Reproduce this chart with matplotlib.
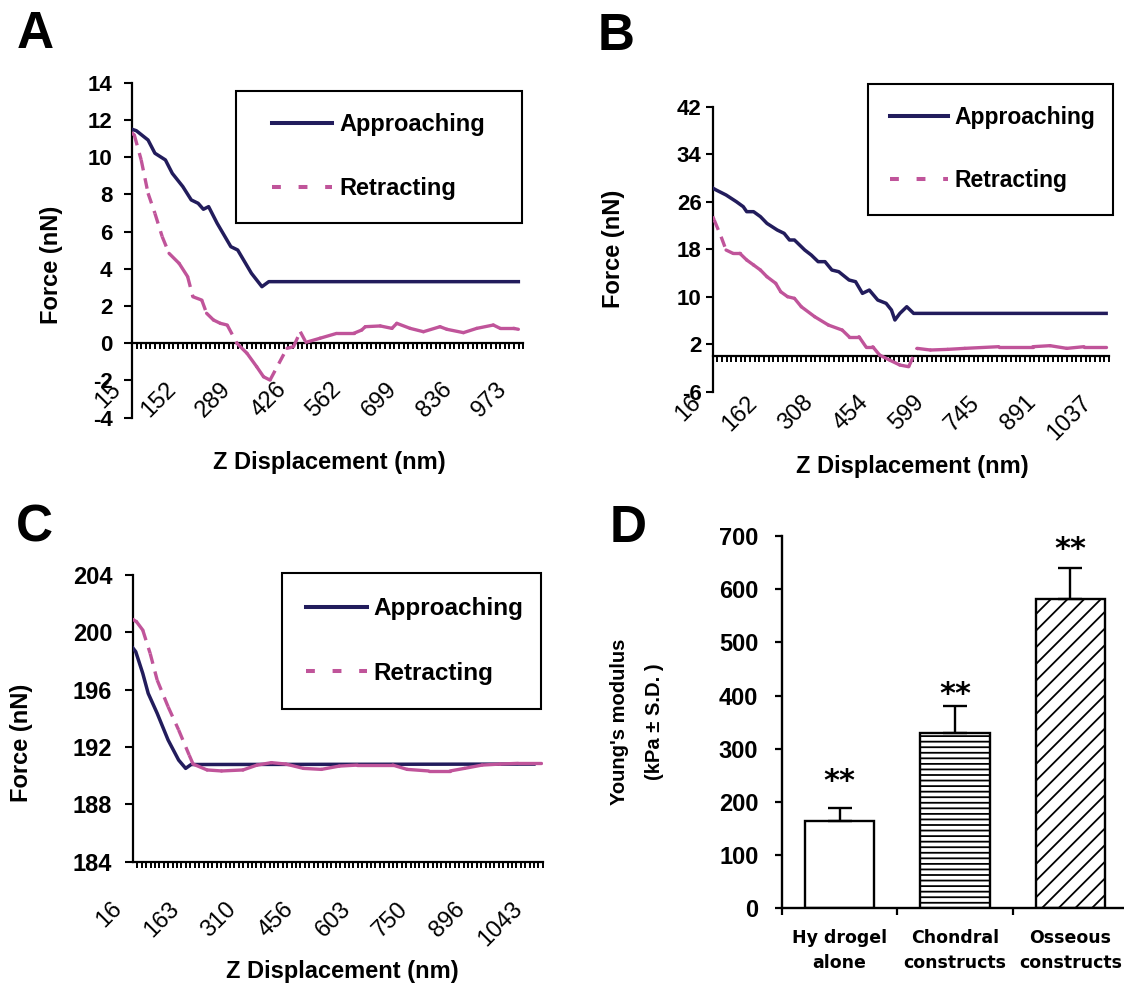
import numpy as np
import matplotlib
matplotlib.use("Agg")
import matplotlib.pyplot as plt
import matplotlib.transforms as mtransforms
from matplotlib.collections import LineCollection
from matplotlib.lines import Line2D
from matplotlib.legend_handler import HandlerLine2D
from matplotlib.ticker import FixedLocator

plt.rcParams['font.family'] = ['Liberation Sans', 'DejaVu Sans']
plt.rcParams['hatch.linewidth'] = 1.3

# ------------------------------------------------------------------ data
series_labels = ['Approaching', 'Retracting']

# Panel A
a_app_x = [15, 26, 55, 72, 98, 115, 141, 162, 179, 192, 205, 226, 260, 277, 311, 337, 354, 972]
a_app_y = [11.5, 11.42, 10.92, 10.21, 9.85, 9.13, 8.42, 7.70, 7.52, 7.20, 7.34, 6.45, 5.19, 5.01,
           3.76, 3.04, 3.31, 3.31]
a_ret_x = [15, 21, 38, 55, 72, 90, 107, 132, 153, 166, 188, 200, 217, 234, 251, 275, 300, 324, 341,
           357, 399, 415, 432, 446, 481, 522, 564, 584, 593, 630, 659, 671, 704, 737, 778, 795, 836,
           869, 910, 927, 960, 972]
a_ret_y = [11.3, 11.19, 9.85, 8.06, 6.98, 5.73, 4.83, 4.29, 3.58, 2.50, 2.32, 1.61, 1.25, 1.07, 0.98,
           0.0, -0.54, -1.26, -1.80, -1.98, -0.27, -0.19, 0.62, 0.05, 0.27, 0.53, 0.53, 0.71, 0.89,
           0.93, 0.80, 1.07, 0.80, 0.62, 0.89, 0.75, 0.57, 0.80, 0.98, 0.80, 0.80, 0.75]
a_yticks = [-4, -2, 0, 2, 4, 6, 8, 10, 12, 14]
a_xticks = [15, 152, 289, 426, 562, 699, 836, 973]

# Panel B
b_app_x = [16, 25, 51, 78, 96, 105, 123, 141, 158, 185, 203, 217, 230, 257, 274, 292, 310, 328, 346,
           373, 390, 408, 426, 448, 470, 484, 493, 506, 524, 542, 1046]
b_app_y = [28.3, 27.97, 27.13, 26.0, 25.16, 24.32, 24.32, 23.48, 22.35, 21.23, 20.67, 19.55, 19.55,
           17.86, 17.02, 15.90, 15.90, 14.49, 14.21, 12.81, 12.53, 10.56, 11.12, 9.44, 8.88, 7.75,
           6.07, 7.19, 8.31, 7.19, 7.19]
b_ret_x = [16, 20, 38, 51, 69, 87, 105, 123, 141, 158, 181, 194, 212, 230, 248, 283, 319, 355, 373,
           399, 417, 435, 453, 479, 506, 529, 551, 586, 631, 676, 765, 854, 899, 943, 988, 1046]
b_ret_y = [23.5, 22.91, 20.10, 17.86, 17.30, 17.30, 16.18, 15.34, 14.49, 13.37, 12.25, 10.84, 10.0,
           9.72, 8.31, 6.63, 5.22, 4.38, 3.26, 3.26, 1.57, 1.57, 0.17, -0.67, -1.51, -1.79, 1.30,
           1.02, 1.13, 1.30, 1.58, 1.58, 1.75, 1.30, 1.58, 1.58]
b_yticks = [-6, 2, 10, 18, 26, 34, 42]
b_xticks = [16, 162, 308, 454, 599, 745, 891, 1037]

# Panel C
c_app_x = [16, 23, 41, 55, 78, 106, 133, 151, 165, 1044]
c_app_y = [198.9, 198.65, 197.14, 195.74, 194.35, 192.49, 191.09, 190.51, 190.78, 190.81]
c_ret_x = [16, 25, 41, 60, 78, 106, 133, 160, 170, 206, 243, 298, 334, 371, 408, 453, 499, 545, 591,
           682, 719, 774, 829, 866, 911, 957, 1003, 1062]
c_ret_y = [200.9, 200.74, 200.16, 198.53, 196.67, 194.81, 193.19, 191.44, 190.81, 190.40, 190.33,
           190.40, 190.74, 190.91, 190.81, 190.51, 190.44, 190.67, 190.74, 190.74, 190.44, 190.33,
           190.33, 190.51, 190.74, 190.81, 190.86, 190.86]
c_yticks = [184, 188, 192, 196, 200, 204]
c_xticks = [16, 163, 310, 456, 603, 750, 896, 1043]

# Panel D
d_groups = ['Hy drogel\nalone', 'Chondral\nconstructs', 'Osseous\nconstructs']
d_modulus = [165, 330, 582]
d_sd = [23, 50, 58]
d_sig = ['**', '**', '**']
d_sig_y = [257, 420, 692]
d_yticks = [0, 100, 200, 300, 400, 500, 600, 700]

# ------------------------------------------------------------------ style
APP_C = '#221C5C'
RET_C = '#C0549A'
W, H = 1124, 984

fig = plt.figure(figsize=(W / 100, H / 100), dpi=100)


def px_rect(x0, y0, x1, y1):
    """axes rect from pixel box (top-left origin)."""
    return [x0 / W, 1 - y1 / H, (x1 - x0) / W, (y1 - y0) / H]


def draw_retract(ax, x, y):
    # Excel-style dashed series: the dash restarts on every segment, so only
    # the steep segments show visible gaps.
    pts = np.column_stack([x, y])
    segs = np.stack([pts[:-1], pts[1:]], axis=1)
    d = np.diff(ax.transData.transform(pts), axis=0)
    steep = np.abs(d[:, 1]) > 1.7 * np.abs(d[:, 0])
    ax.add_collection(LineCollection(segs[~steep], colors=RET_C, linewidths=2.4,
                                     capstyle='round', joinstyle='round', zorder=4))
    ax.add_collection(LineCollection(segs[steep], colors=RET_C, linewidths=2.4,
                                     linestyles=[(0, (3.2, 2.4))], capstyle='butt', zorder=4))


def force_panel(rect, app_x, app_y, ret_x, ret_y, xlim, ylim, yticks, xticks, minor_step,
                cross_zero, ytick_size, ypad, ytick_len, xlab_pad, ylabel_xy, xlabel_xy, leg):
    ax = fig.add_axes(rect)
    ax.set_xlim(xlim)
    ax.set_ylim(ylim)
    ax.plot(app_x, app_y, color=APP_C, lw=2.5, zorder=3)
    draw_retract(ax, ret_x, ret_y)
    for s in ('top', 'right'):
        ax.spines[s].set_visible(False)
    for s in ('left', 'bottom'):
        ax.spines[s].set_linewidth(1.6)
    if cross_zero:
        ax.spines['bottom'].set_position(('data', 0))
    ax.set_yticks(yticks, labels=[str(t) for t in yticks], fontsize=ytick_size,
                  fontweight='bold')
    ax.set_xticks(xticks, labels=[str(t) for t in xticks], fontsize=17, rotation=45,
                  ha='right', va='top')
    ax.xaxis.set_minor_locator(FixedLocator(np.arange(xlim[0] + minor_step, xlim[1], minor_step)))
    ax.xaxis.remove_overlapping_locs = False
    ax.tick_params(axis='y', which='major', direction='out', length=ytick_len, width=1.5, pad=ypad)
    ax.tick_params(axis='x', which='major', length=0, pad=xlab_pad)
    ax.tick_params(axis='x', which='minor', direction='out', length=4, width=1.4)
    off = mtransforms.ScaledTranslation(-7 / 100, 0, fig.dpi_scale_trans)
    for lab in ax.get_xticklabels():
        lab.set_transform(lab.get_transform() + off)
    ax.set_ylabel('Force (nN)', fontsize=17, fontweight='bold')
    ax.yaxis.set_label_coords(*ylabel_xy)
    ax.set_xlabel('Z Displacement (nm)', fontsize=17, fontweight='bold')
    ax.xaxis.set_label_coords(*xlabel_xy)

    h_app = Line2D([], [], color=APP_C, lw=2.9)
    h_ret = Line2D([], [], color=RET_C, lw=2.9, linestyle=(0, (2.2, 4.4)), dash_capstyle='butt')
    x0, y0, x1, y1 = leg['box']
    L = ax.legend([h_app, h_ret], series_labels, loc='upper left',
                  bbox_to_anchor=(x0 / W, 1 - y0 / H, (x1 - x0) / W, 0),
                  bbox_transform=fig.transFigure, mode='expand', borderaxespad=0,
                  borderpad=leg['bp'], labelspacing=leg['ls'], handlelength=leg['hl'],
                  handletextpad=leg['htp'], fancybox=False, framealpha=1, edgecolor='black',
                  prop=dict(weight='bold', size=leg['fs']),
                  handler_map={Line2D: HandlerLine2D(xpad=leg['xpad'])})
    L.get_frame().set_linewidth(1.5)
    return ax


# Panel A
force_panel(px_rect(131.9, 82.7, 523.4, 417.7), a_app_x, a_app_y, a_ret_x, a_ret_y,
            (15, 984.5), (-4, 14), a_yticks, a_xticks, 11.4, True, 16, 8, 6, 25,
            (-0.176, 0.456), (0.505, -0.099),
            dict(box=(235.9, 90.7, 521.7, 223.3), fs=17, bp=0.96, ls=1.72, hl=3.12, htp=0.29,
                 xpad=0.58))

# Panel B
force_panel(px_rect(712.7, 106.7, 1109.4, 391.7), b_app_x, b_app_y, b_ret_x, b_ret_y,
            (16, 1054.5), (-6, 42), b_yticks, b_xticks, 12.2, True, 16, 3, 5, 25.6,
            (-0.222, 0.5), (0.504, -0.221),
            dict(box=(867.6, 84, 1112.8, 213.3), fs=16.5, bp=0.97, ls=1.75, hl=2.53, htp=0.29,
                 xpad=0.0))

# Panel C
force_panel(px_rect(133, 575, 542.9, 861.7), c_app_x, c_app_y, c_ret_x, c_ret_y,
            (16, 1067), (184, 204), c_yticks, c_xticks, 11.3, False, 17, 9, 6, 26,
            (-0.245, 0.416), (0.51, -0.342),
            dict(box=(282.1, 573.3, 541.1, 708.3), fs=17.5, bp=0.98, ls=1.72, hl=2.5, htp=0.29,
                 xpad=0.0))

# Panel D
axD = fig.add_axes(px_rect(782, 536, 1128, 908.3))
xpos = np.arange(len(d_groups))
bars = axD.bar(xpos, d_modulus, width=0.6, color='white', edgecolor='black', linewidth=1.7,
               zorder=2)
for b, h in zip(bars, ['', '---', '//']):
    b.set_hatch(h)
axD.errorbar(xpos, d_modulus, yerr=[np.zeros(len(d_sd)), d_sd], fmt='none', ecolor='black',
             elinewidth=1.7, capsize=8.5, capthick=1.7, zorder=3)
for xi, lab, sy in zip(xpos, d_sig, d_sig_y):
    axD.annotate(lab, (xi, sy), xytext=(0, -6.8), textcoords='offset points', ha='center',
                 va='center', fontsize=22, fontweight='bold', family='DejaVu Sans')
axD.set_xlim(-0.5, 2.5)
axD.set_ylim(0, 700)
for s in ('top', 'right'):
    axD.spines[s].set_visible(False)
for s in ('left', 'bottom'):
    axD.spines[s].set_linewidth(1.7)
axD.set_yticks(d_yticks, labels=[str(t) for t in d_yticks], fontsize=17, fontweight='bold')
axD.tick_params(axis='y', direction='out', length=5, width=1.6, pad=12)
axD.set_xticks(np.arange(-0.5, len(d_groups), 1.0), labels=[''] * (len(d_groups) + 1))
axD.set_xticks(xpos, labels=d_groups, minor=True, fontsize=12.5, fontweight='bold',
               family='DejaVu Sans', linespacing=1.5)
axD.tick_params(axis='x', which='major', direction='out', length=5, width=1.6)
axD.tick_params(axis='x', which='minor', length=0, pad=15)
axD.set_ylabel("Young's modulus\n(kPa \u00b1 S.D. )", fontsize=14.5, fontweight='bold',
               linespacing=2.1)
axD.yaxis.set_label_coords(-0.341, 0.5)

# panel letters
for letter, (lx, ly) in zip('ABCD', [(16.7, 48.3), (598, 50), (16, 541), (610, 542)]):
    fig.text(lx / W, 1 - ly / H, letter, fontsize=37, fontweight='bold', ha='left',
             va='baseline')

fig.savefig('out.png', dpi=100)
